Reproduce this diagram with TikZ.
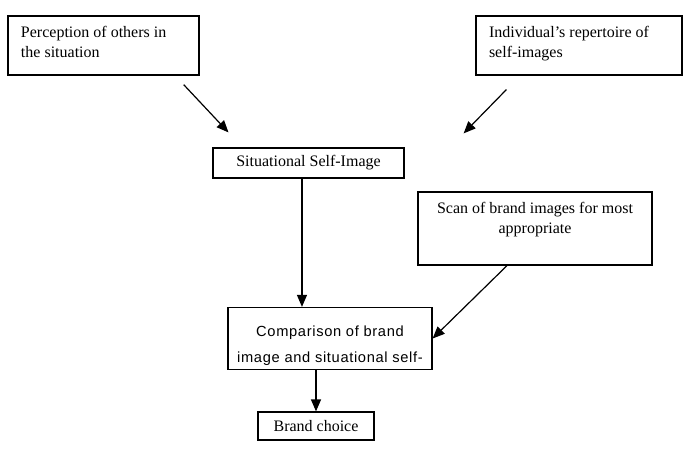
\documentclass[tikz,border=0pt]{standalone}
\usepackage{fontspec}
\setmainfont{Liberation Serif}
\newfontfamily\spacedsans[LetterSpace=4.5]{Liberation Sans}
\usetikzlibrary{arrows.meta, positioning}

\begin{document}
\begin{tikzpicture}[
  x=0.75pt, y=-0.75pt,
  box/.style={draw, line width=0.9pt, inner xsep=9.75pt, inner ysep=8pt, font=\fontsize{12}{14.5}\selectfont},
  smallbox/.style={draw, line width=0.9pt, inner sep=0pt, align=center, font=\fontsize{12}{14.5}\selectfont},
  arrow/.style={-{Triangle[length=9pt, width=7.5pt]}, line width=0.9pt},
]
\useasboundingbox (0,0) rectangle (692,470);

\node[box] (percep) at (103.5,45.5)
  {\parbox[c][28.25pt][t]{123.75pt}{\raggedright Perception of others in\\the situation}};
\node[box] (indiv) at (579,45.5)
  {\parbox[c][28.25pt][t]{135pt}{\raggedright Individual's repertoire of\\self-images}};
\node[smallbox, minimum width=143.25pt, minimum height=22.5pt] (situ) at (308.5,163)
  {Situational Self-Image};
\node[box] (scan) at (535,228.5)
  {\parbox[c][38.75pt][t]{156pt}{\centering Scan of brand images for most\\appropriate}};
\node[draw, line width=0.9pt, inner xsep=0pt, inner ysep=3pt] (compar) at (330,338.5)
  {\parbox[c][38.25pt][b]{153pt}{\centering\spacedsans\fontsize{11}{19.5}\selectfont
   \mbox{Comparison of brand}\\\mbox{image and situational self-}}};
\node[smallbox, minimum width=87pt, minimum height=21pt] (brand) at (316,426)
  {Brand choice};

\draw[arrow, shorten <=9.3pt, shorten >=15.4pt]
  ([xshift=-18.3pt]percep.south east) -- ([xshift=22.6pt]situ.north west);
\draw[arrow, shorten <=14.7pt, shorten >=14.7pt]
  ([xshift=33.5pt]indiv.south west) -- ([xshift=34pt]situ.north east);
\draw[arrow] ([xshift=-4.9pt]situ.south) -- ([xshift=-4.9pt]situ.south |- compar.north);
\draw[arrow] ([xshift=-21pt]scan.south) -- (compar.east);
\draw[arrow] (compar.south -| brand.north) -- (brand.north);
\end{tikzpicture}
\end{document}
